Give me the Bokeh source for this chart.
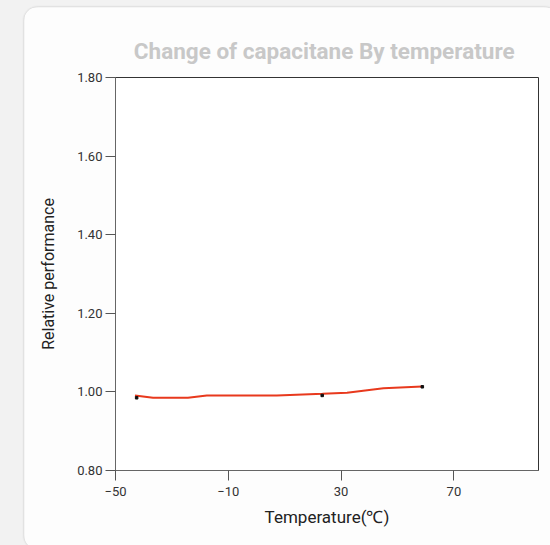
from bokeh.plotting import figure
from bokeh.models import FixedTicker, NumeralTickFormatter, GlobalInlineStyleSheet, Range1d
from bokeh.embed import file_html
from bokeh.resources import INLINE

# data
line_temp = [-43.1, -36.7, -24.3, -17.6, 7.2, 23.4, 32.1, 45.0, 58.8]
line_perf = [0.991, 0.985, 0.985, 0.991, 0.991, 0.995, 0.998, 1.009, 1.014]
dot_temp = [-42.5, 23.3, 58.8]
dot_perf = [0.985, 0.991, 1.013]
x_ticks = [-50, -10, 30, 70]
y_ticks = [0.8, 1.0, 1.2, 1.4, 1.6, 1.8]

FONT = "Roboto"

p = figure(width=534, height=542, output_backend="svg", toolbar_location=None,
           x_range=Range1d(-50, 100), y_range=Range1d(0.8, 1.8),
           min_border_left=91, min_border_right=20, min_border_top=70, min_border_bottom=79)

p.styles = {"margin-left": "24px", "margin-top": "7px", "border-radius": "14px",
            "overflow": "hidden", "box-shadow": "0 0 2px #b8b8b8"}
p.stylesheets = [GlobalInlineStyleSheet(css="html, body { background: #f2f2f2; overflow: hidden; }")]

p.background_fill_color = "#ffffff"
p.border_fill_color = "#fdfdfd"
p.outline_line_color = "#333333"
p.outline_line_width = 1
p.xgrid.visible = False
p.ygrid.visible = False

p.title.text = "Change of capacitane  By temperature"
p.title.align = "center"
p.title.text_font = FONT
p.title.text_font_style = "bold"
p.title.text_font_size = "22.5px"
p.title.text_color = "#c8c8c8"
p.title.standoff = 27

for ax in (p.xaxis[0], p.yaxis[0]):
    ax.axis_line_color = "#666666"
    ax.major_tick_line_color = "#555555"
    ax.major_tick_out = 10
    ax.major_tick_in = 0
    ax.minor_tick_line_color = None
    ax.major_label_text_font = FONT
    ax.major_label_text_font_size = "13px"
    ax.major_label_text_color = "#333333"
    ax.axis_label_text_font = FONT
    ax.axis_label_text_font_style = "normal"
    ax.axis_label_text_color = "#222222"

p.xaxis.ticker = FixedTicker(ticks=x_ticks)
p.yaxis.ticker = FixedTicker(ticks=y_ticks)
p.yaxis.formatter = NumeralTickFormatter(format="0.00")
p.xaxis.axis_label = "Temperature(℃)"
p.yaxis.axis_label = "Relative performance"
p.xaxis.axis_label_text_font_size = "17px"
p.yaxis.axis_label_text_font_size = "16px"
p.xaxis.major_label_standoff = 6
p.yaxis.major_label_standoff = 3
p.xaxis.axis_label_standoff = 8
p.yaxis.axis_label_standoff = 16

p.line(line_temp, line_perf, line_color="#e8391d", line_width=2)
p.scatter(dot_temp, dot_perf, marker="square", size=2.5, color="#111111")

open("out.html", "w").write(file_html(p, INLINE))
